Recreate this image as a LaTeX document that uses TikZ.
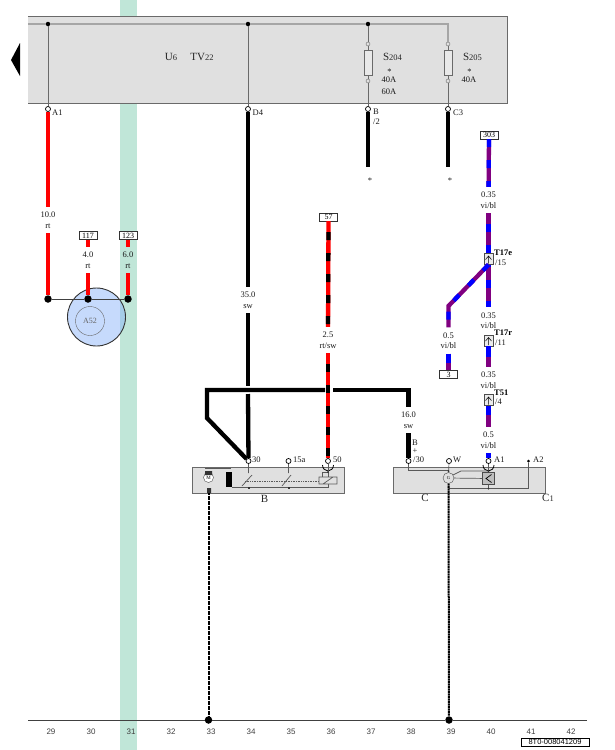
\documentclass[tikz,border=0pt]{standalone}
\usepackage{fontspec}
\setmainfont{Liberation Serif}
\newfontfamily\axisfont{Liberation Sans}
\definecolor{bandgreen}{HTML}{C0E6D8}
\definecolor{boxgray}{HTML}{E0E0E0}
\definecolor{linegray}{HTML}{6A6A6A}
\definecolor{vi}{HTML}{800080}
\definecolor{motorblue}{HTML}{8DB5F9}
\tikzstyle{wirelabel}=[minimum height=26pt,minimum width=4pt,inner sep=0,align=center,font=\fontsize{8.5}{10.5}\selectfont,text=black!90]
\tikzstyle{termlabel}=[inner sep=0,anchor=west,font=\fontsize{8.5}{8.5}\selectfont,text=black!90]
\tikzstyle{pluglabel}=[inner sep=0,anchor=west,font=\fontsize{8.5}{8.5}\selectfont\bfseries,text=black]
\tikzstyle{boxlabel}=[inner sep=0,font=\fontsize{8.5}{8.5}\selectfont,text=black!90]
\tikzstyle{partlabel}=[inner sep=0,font=\fontsize{11}{11}\selectfont,text=black!85]
\tikzstyle{refbox}=[rectangle,draw=black!80,fill=white,minimum width=18pt,minimum height=8pt,inner sep=0,font=\fontsize{8}{8}\selectfont]
\tikzstyle{termdot}=[shape=circle,minimum size=5pt,inner sep=0,line width=.7pt,draw=black,fill=white]
\tikzstyle{smallterm}=[shape=circle,minimum size=4pt,inner sep=0,draw=linegray,fill=boxgray]
\tikzstyle{blackdot}=[shape=circle,minimum size=7.5pt,inner sep=0,fill=black]
\tikzstyle{tinydot}=[shape=circle,minimum size=4pt,inner sep=0,fill=black]
\tikzstyle{fusebox}=[rectangle,minimum width=7.5pt,minimum height=25pt,inner sep=0,draw=linegray,fill=boxgray!70!white]
\tikzstyle{plugbox}=[rectangle,minimum width=9pt,minimum height=11pt,inner sep=0,draw=black!70,fill=black!8]
\tikzstyle{unitbox}=[rectangle,minimum width=152pt,minimum height=26pt,inner sep=0,draw=linegray,line width=1pt,fill=boxgray]
\tikzstyle{redwire}=[line width=4.3pt,red]
\tikzstyle{blackwire}=[line width=4.3pt,black]
\tikzstyle{rtswwire}=[line width=4.3pt,draw=black,dash pattern=on 8pt off 13pt,dash phase=10pt,preaction={draw=red,solid,line width=4.3pt}]
\tikzstyle{viblwire}=[line width=4.3pt,draw=blue,dash pattern=on 8pt off 13pt,preaction={draw=vi,solid,line width=4.3pt}]
\tikzstyle{thinline}=[line width=.7pt,linegray]
\tikzstyle{innerline}=[line width=.7pt,black!65]
\tikzstyle{groundwire}=[line width=2pt,black,dash pattern=on 2pt off .5pt]
\newcommand{\unitname}[2]{#1{\fontsize{8.5}{8.5}\selectfont #2}}
\begin{document}
\begin{tikzpicture}[x=1pt,y=-1pt]
\useasboundingbox (0,0) rectangle (614,750);
\fill[bandgreen] (120,0) rectangle (137,750);
\fill[black] (20,43)--(11,60)--(20,76)--cycle;

% fuse box
\node[rectangle,minimum width=479pt,minimum height=86pt,inner sep=0,fill=boxgray] (boxU) at (267.5,60) {};
\draw[line width=1pt,linegray] (boxU.north west)--(boxU.north east)--(boxU.south east)--(boxU.south west);
\foreach \x in {48,248,368}
	\node[tinydot,minimum size=4.5pt] (top\x) at (\x,24) {};
\coordinate (topright) at (448,24);
\node[partlabel] (nameU) at (171,57) {\unitname{U}{6}};
\node[partlabel] (nameTV) at (202,57) {\unitname{TV}{22}};

\foreach \n/\x in {A1/48,D4/248,B2/368,C3/448}
	\node[termdot] (\n) at (\x,109) {};
\foreach \n/\x/\t in {204/368/B2,205/448/C3}{
	\node[fusebox] (fuse\n) at (\x,62.5) {};
	\node[smallterm] (up\n) at (\x,44) {};
	\node[smallterm] (down\n) at (\x,81) {};
	\draw[thinline] (up\n)--(fuse\n) (fuse\n)--(down\n) (down\n)--(\t);
	\node[partlabel] (nameS\n) at (\x+24.5,57) {\unitname{S}{\n}};
	\node[boxlabel] (star\n) at (\x+21.5,71.5) {*};
	\node[boxlabel] (amp\n) at (\x+21,80) {40A};
}
\node[boxlabel] (ampsix) at (389,92) {60A};
\draw[line width=1.2pt,black!35] (boxU.west|-top48)--(top48)--(top248)--(top368)--(topright)--(up205);
\draw[thinline] (top48)--(A1) (top248)--(D4) (top368)--(up204);

\node[termlabel] (tA1) at (52,113) {A1};
\node[termlabel] (tD4) at (252.5,113) {D4};
\node[termlabel] (tB) at (373,112) {B};
\node[termlabel] (ttwo) at (373,122) {/2};
\node[termlabel] (tC3) at (453,113) {C3};

% left wires and battery
\node[draw=black!80,line width=.9pt,circle,minimum size=58pt,inner sep=0,fill=motorblue,fill opacity=.5] (batt) at (96.5,317) {};
\node[draw=black!60,circle,minimum size=29pt,inner sep=0,font=\fontsize{8}{8}\selectfont,text=black!60] (battin) at (90,321) {A52};
\foreach \x in {48,88,128}
	\node[blackdot] (dot\x) at (\x,299) {};
\draw[line width=.9pt,black!75] (dot48)--(dot88)--(dot128);
\node[refbox] (r117) at (88,235.5) {117};
\node[refbox] (r123) at (128,235.5) {123};
\node[wirelabel] (l10) at (48,220) {10.0\\rt};
\node[wirelabel] (l4) at (88,260) {4.0\\rt};
\node[wirelabel] (l6) at (128,260) {6.0\\rt};
\draw[redwire] (A1)--(l10);
\draw[redwire] (l10)--(dot48);
\draw[redwire] (r117)--(l4);
\draw[redwire] (l4)--(dot88);
\draw[redwire] (r123)--(l6);
\draw[redwire] (l6)--(dot128);

% starter
\node[unitbox] (unitB) at (268.5,480) {};
\node[partlabel] (nameB) at (264.5,499) {B};
\foreach \n/\x in {pthirty/248.5,pfifteen/288.5,pfifty/328}
	\node[termdot] (\n) at (\x,461) {};
\node[termlabel] (tthirty) at (252,460) {30};
\node[termlabel] (tfifteen) at (293,460) {15a};
\node[termlabel] (tfifty) at (333,460) {50};

% big black wires
\node[wirelabel] (l35) at (248,300) {35.0\\sw};
\node[wirelabel] (l16) at (408.5,420) {16.0\\sw};
\coordinate (crossup) at (248,386);
\coordinate (crossdown) at (248,394);
\coordinate (gapleft) at (325,390);
\coordinate (gapright) at (333,390);
\coordinate (cornerA) at (207,390);
\coordinate (cornerB) at (207,418);
\coordinate (cornerC) at (408.5,390);
\node[termdot] (pb30) at (408.5,461) {};
\draw[blackwire] (D4)--(l35);
\draw[blackwire] (l35)--(crossup);
\draw[blackwire] (crossdown)--(pthirty);
\draw[blackwire] (gapleft)--(cornerA)--(cornerB)--(pthirty);
\draw[blackwire] (gapright)--(cornerC)--(l16);
\draw[blackwire] (l16)--(pb30);
\node[boxlabel] (tBtwo) at (415,443) {B};
\node[boxlabel] (tplus) at (415,451.5) {+};
\node[termlabel] (tslash) at (413,460) {/30};

\coordinate (endB) at (368,167);
\coordinate (endC) at (448,167);
\draw[blackwire] (B2)--(endB);
\draw[blackwire] (C3)--(endC);
\node[boxlabel] (starB) at (370,181) {*};
\node[boxlabel] (starC) at (450,181) {*};

% red black wire
\node[refbox] (r57) at (328.5,217) {57};
\node[wirelabel] (l25) at (328,340) {2.5\\rt/sw};
\draw[rtswwire] (r57)--(l25);
\draw[rtswwire] (l25)--(pfifty);
\draw[line width=.8pt] (322.5,465) arc (180:0:5.5 and 6);

% inside of B
\node[draw=black!70,circle,minimum size=10pt,inner sep=0,fill=white,font=\fontsize{5}{5}\selectfont] (motor) at (208.5,477.5) {M};
\fill[black!80] (205,471) rectangle (212,475) (207,488) rectangle (211,493);
\fill[black] (226,472) rectangle (231.7,487);
\draw[innerline] (205,468)--(231,468);
\draw[innerline] (232,487.5)--(328,487.5)--(328,463);
\draw[innerline] (pthirty)--(248.5,473) (242,486)--(252,475);
\draw[innerline] (pfifteen)--(288.5,473) (282,486)--(291,475);
\draw[innerline,densely dotted] (245,481)--(319,481);
\draw[innerline,fill=boxgray] (319,477)rectangle(337,484) (323,484)--(333,477);
\draw[innerline] (322,477)--(322,472)--(328,472);
\foreach \x in {248.5,288.5}
	\fill[black!80] (\x-1,486.5) rectangle (\x+1,488.5);
\fill[black!80] (328,472) circle (1pt);

% alternator
\node[unitbox] (unitC) at (469,480) {};
\node[partlabel] (nameC) at (425,498) {C};
\node[partlabel] (nameCone) at (548,498) {\unitname{C}{1}};
\foreach \n/\x in {pW/449,pAone/488.5}
	\node[termdot] (\n) at (\x,461) {};
\node[tinydot,minimum size=3pt] (pAtwo) at (528.5,461) {};
\node[termlabel] (tW) at (453,460) {W};
\node[termlabel] (tAone) at (494,460) {A1};
\node[termlabel] (tAtwo) at (533,460) {A2};
\draw[line width=.8pt] (483,465) arc (180:0:5.5 and 6);

\node[draw=black!70,circle,minimum size=11pt,inner sep=0,fill=boxgray,font=\fontsize{4.5}{4.5}\selectfont] (alt) at (448.5,478) {G};
\node[draw=black!70,line width=.8pt,rectangle,minimum size=11.5pt,inner sep=0,fill=black!25] (reg) at (488.5,478.5) {};
\draw[innerline] (pb30)--(408.5,470)--(448.5,470);
\draw[innerline] (pW)--(alt);
\draw[innerline] (alt)--(reg);
\draw[innerline] (pAone)--(reg);
\draw[innerline] (453,475)--(461,471)--(488.5,471);
\draw[innerline] (reg)--(488.5,488.5)--(528.5,488.5)--(pAtwo);
\draw[innerline] (448.5,488.5)--(488.5,488.5);
\draw[line width=.7pt] (491.5,474.5)--(486,478.5)--(491.5,482.5);
\foreach \x/\y in {448.5/471,448.5/487,488.5/471,488.5/488.5}
	\fill[black!80] (\x,\y) circle (1pt);

% violet blue wires
\node[refbox] (r303) at (489,135) {303};
\node[wirelabel] (la) at (488.5,200) {0.35\\vi/bl};
\node[wirelabel] (lb) at (488.5,320.5) {0.35\\vi/bl};
\node[wirelabel] (lc) at (488.5,380) {0.35\\vi/bl};
\node[wirelabel] (ld) at (488.5,440) {0.5\\vi/bl};
\node[wirelabel] (le) at (448.5,340.5) {0.5\\vi/bl};
\node[refbox] (r3) at (448.5,374.5) {3};
\foreach \n/\y in {Tseven/259,Tr/340.5,Tfive/400}{
	\node[plugbox] (\n) at (488.5,\y) {};
	\draw[line width=.5pt] (488.5,\y+4.5)--(488.5,\y-3) (485.5,\y+.5)--(488.5,\y-3)--(491.5,\y+.5);
}
\coordinate (bend) at (448.5,306);
\draw[viblwire] (r303)--(la);
\draw[viblwire,dash phase=10pt] (la)--(Tseven);
\draw[viblwire,dash phase=6pt] (Tseven)--(lb);
\draw[viblwire] (Tseven.south)--(bend)--(le);
\draw[viblwire,dash pattern=on 9pt off 30pt] (le)--(r3);
\draw[viblwire,dash pattern=on 11pt off 30pt] (Tr)--(lc);
\draw[viblwire,dash pattern=on 9pt off 30pt] (Tfive)--(ld);
\draw[line width=4.3pt,blue] (ld)--(pAone);
\node[pluglabel] (tTseven) at (494,252.5) {T17e};
\node[termlabel] (tfifteenb) at (495,262.5) {/15};
\node[pluglabel] (tTr) at (494,332.5) {T17r};
\node[termlabel] (televen) at (495,342.5) {/11};
\node[pluglabel] (tTfive) at (494,393) {T51};
\node[termlabel] (tfour) at (495,402) {/4};

% bottom rail
\node[blackdot] (railB) at (208.5,720) {};
\node[blackdot] (railC) at (449,720) {};
\coordinate (railstart) at (28,720);
\coordinate (railend) at (587,720);
\coordinate (gndB) at (208.5,493);
\draw[line width=.9pt,black!75] (railstart)--(railB)--(railC)--(railend);
\draw[groundwire] (gndB)--(railB);
\draw[groundwire] (alt)--(railC);
\foreach \n [count=\i] in {29,...,42}
	\node[inner sep=0,font=\axisfont\fontsize{8}{8}\selectfont,text=black!75] (col\n) at (11+40*\i,732) {\n};
\node[rectangle,draw=black,minimum width=68pt,minimum height=8pt,inner sep=0,font=\axisfont\fontsize{7.5}{7.5}\selectfont] (docid) at (555,742) {8T0-008041209};
\end{tikzpicture}
\end{document}
